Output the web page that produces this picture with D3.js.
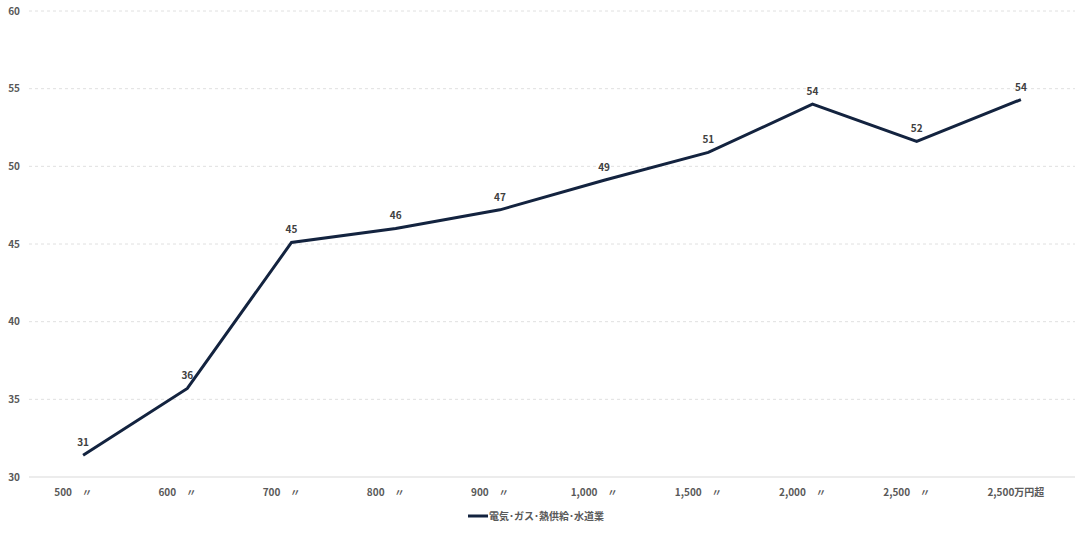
<!DOCTYPE html>
<html><head><meta charset="utf-8">
<script src="https://cdn.jsdelivr.net/npm/d3@7"></script>
<style>
body{margin:0;background:#fff;}
text{font-family:"Noto Sans CJK JP","Noto Sans",sans-serif;}
</style></head>
<body><svg id="c" width="1088" height="536"></svg>
<script>
const categories = ["500　〃","600　〃","700　〃","800　〃","900　〃","1,000　〃","1,500　〃","2,000　〃","2,500　〃","2,500万円超"];
const values = [31.4, 35.7, 45.1, 46.0, 47.2, 49.1, 50.9, 54.0, 51.6, 54.3];
const labels = ["31","36","45","46","47","49","51","54","52","54"];
const yTicks = [30,35,40,45,50,55,60];
const seriesName = "電気･ガス･熱供給･水道業";

const svg = d3.select("#c");
const x = d3.scaleBand().domain(categories).range([31, 1073]);
const y = d3.scaleLinear().domain([30, 60]).range([477, 11]);
const color = "#13233f";

// gridlines
svg.append("g").selectAll("line").data(yTicks).join("line")
  .attr("x1", 29).attr("x2", 1075)
  .attr("y1", d => y(d)).attr("y2", d => y(d))
  .attr("stroke", d => d === 30 ? "#e6e6e6" : "#e0e0e0")
  .attr("stroke-width", d => d === 30 ? 1.5 : 1)
  .attr("stroke-dasharray", d => d === 30 ? null : "3,3");

// y labels
svg.append("g").selectAll("text").data(yTicks).join("text")
  .attr("x", 20).attr("y", d => y(d)).attr("dy", "0.35em")
  .attr("text-anchor", "end").attr("font-size", 10).attr("font-weight", "bold")
  .attr("fill", "#595959").text(d => d);

// x labels
svg.append("g").selectAll("text").data(categories).join("text")
  .attr("x", (d,i) => x(d) + x.bandwidth()/2 - (i === categories.length - 1 ? 5 : 10)).attr("y", 496)
  .attr("text-anchor", "middle").attr("font-size", 10).attr("font-weight", "bold")
  .attr("fill", "#595959").text(d => d);

// line
const line = d3.line().x((d,i) => x(categories[i]) + x.bandwidth()/2).y(d => y(d));
svg.append("path").datum(values).attr("d", line)
  .attr("fill", "none").attr("stroke", color).attr("stroke-width", 3).attr("stroke-linejoin", "miter");

// data labels
svg.append("g").selectAll("text").data(values).join("text")
  .attr("x", (d,i) => x(categories[i]) + x.bandwidth()/2).attr("y", d => y(d) - 9)
  .attr("text-anchor", "middle").attr("font-size", 10).attr("font-weight", "bold")
  .attr("fill", "#404040").text((d,i) => labels[i]);

// legend
const lg = svg.append("g");
lg.append("line").attr("x1", 468).attr("x2", 488).attr("y1", 516).attr("y2", 516)
  .attr("stroke", color).attr("stroke-width", 3);
lg.append("text").attr("x", 489).attr("y", 516).attr("dy", "0.35em")
  .attr("font-size", 10).attr("font-weight", "bold").attr("fill", "#595959").text(seriesName);
</script></body></html>
